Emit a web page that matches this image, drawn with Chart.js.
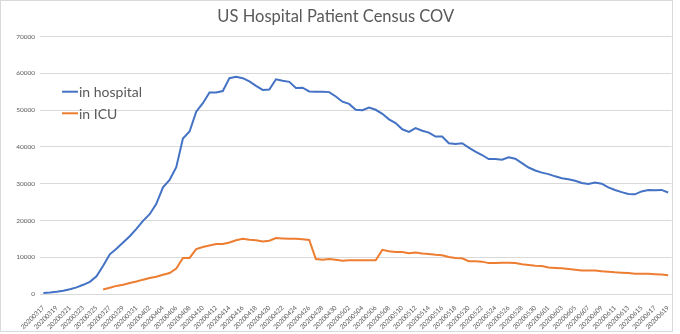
<!DOCTYPE html>
<html>
<head>
<meta charset="utf-8">
<script src="https://cdn.jsdelivr.net/npm/chart.js@4/dist/chart.umd.min.js"></script>
<style>
  html, body { margin: 0; padding: 0; background: #fff; }
  #wrap { width: 680px; height: 334px; }
</style>
</head>
<body>
<div id="wrap"><canvas id="censusChart" width="680" height="334"></canvas></div>
<script>
// dates (categories), one per day
const dates = [
  '20200317','20200318','20200319','20200320','20200321','20200322','20200323','20200324','20200325','20200326',
  '20200327','20200328','20200329','20200330','20200331',
  '20200401','20200402','20200403','20200404','20200405','20200406','20200407','20200408','20200409','20200410',
  '20200411','20200412','20200413','20200414','20200415','20200416','20200417','20200418','20200419','20200420',
  '20200421','20200422','20200423','20200424','20200425','20200426','20200427','20200428','20200429','20200430',
  '20200501','20200502','20200503','20200504','20200505','20200506','20200507','20200508','20200509','20200510',
  '20200511','20200512','20200513','20200514','20200515','20200516','20200517','20200518','20200519','20200520',
  '20200521','20200522','20200523','20200524','20200525','20200526','20200527','20200528','20200529','20200530',
  '20200531',
  '20200601','20200602','20200603','20200604','20200605','20200606','20200607','20200608','20200609','20200610',
  '20200611','20200612','20200613','20200614','20200615','20200616','20200617','20200618','20200619'
];

// patients currently in hospital
const inHospital = [
  300, 400, 600, 900, 1300, 1800, 2500, 3300, 4800, 7700,
  10800, 12300, 14000, 15700, 17700, 19900, 21700, 24500, 29000, 31000,
  34500, 42300, 44200, 49600, 51900, 54800, 54800, 55200, 58700, 59100,
  58700, 57800, 56600, 55500, 55600, 58400, 58000, 57700, 56000, 56100,
  55100, 55000, 55000, 54900, 53700, 52300, 51700, 50100, 50000, 50700,
  50100, 49000, 47500, 46500, 44800, 44100, 45100, 44400, 43900, 42800,
  42800, 41000, 40800, 41000, 39800, 38700, 37800, 36700, 36700, 36500,
  37200, 36800, 35600, 34400, 33600, 33000, 32600, 32000, 31500, 31200,
  30800, 30200, 29900, 30300, 30000, 29000, 28300, 27700, 27200, 27100,
  27900, 28300, 28200, 28300, 27600
];

// patients currently in ICU (no data before 0326)
const inICU = [
  null, null, null, null, null, null, null, null, null, 1200,
  1700, 2200, 2500, 3000, 3400, 3900, 4350, 4700, 5250, 5700,
  6900, 9800, 9800, 12200, 12800, 13200, 13600, 13600, 14000, 14600,
  15000, 14750, 14600, 14300, 14500, 15200, 15100, 15000, 15000, 14900,
  14700, 9500, 9300, 9500, 9300, 9050, 9200, 9200, 9200, 9200,
  9200, 12000, 11600, 11400, 11400, 11100, 11300, 11000, 10900, 10700,
  10550, 10050, 9800, 9700, 8900, 8900, 8800, 8400, 8400, 8500,
  8500, 8400, 8100, 7900, 7700, 7600, 7200, 7100, 7000, 6800,
  6600, 6400, 6400, 6400, 6200, 6050, 5900, 5800, 5700, 5500,
  5500, 5500, 5400, 5300, 5100
];

const textGray = '#595959';
const gridGray = '#d9d9d9';

// white background + thin outer frame like the spreadsheet chart
const frame = {
  id: 'frame',
  beforeDraw(chart) {
    const c = chart.ctx;
    c.save();
    c.fillStyle = '#fff';
    c.fillRect(0, 0, chart.width, chart.height);
    c.strokeStyle = gridGray;
    c.lineWidth = 1;
    c.strokeRect(0.5, 0.5, 672, 331);
    c.restore();
  }
};

// legend drawn inside the plot, upper left
const innerLegend = {
  id: 'innerLegend',
  afterDraw(chart) {
    const c = chart.ctx;
    c.save();
    c.font = '14px Lato';
    c.textBaseline = 'middle';
    chart.data.datasets.forEach((ds, i) => {
      const y = 91.7 + i * 21.6;
      c.strokeStyle = ds.borderColor;
      c.lineWidth = 2;
      c.beginPath();
      c.moveTo(62, y);
      c.lineTo(78, y);
      c.stroke();
      c.fillStyle = textGray;
      c.fillText(ds.label, 79, y + 1);
    });
    c.restore();
  }
};

new Chart(document.getElementById('censusChart'), {
  type: 'line',
  data: {
    labels: dates,
    datasets: [
      {
        label: 'in hospital',
        data: inHospital,
        borderColor: '#4472c4',
        borderWidth: 2,
        pointRadius: 0,
        tension: 0
      },
      {
        label: 'in ICU',
        data: inICU,
        borderColor: '#ed7d31',
        borderWidth: 2,
        pointRadius: 0,
        tension: 0
      }
    ]
  },
  options: {
    responsive: false,
    animation: false,
    layout: { padding: { left: 0, right: 8.5, top: 0, bottom: 0 } },
    plugins: {
      legend: { display: false },
      tooltip: { enabled: false },
      title: {
        display: true,
        text: 'US Hospital Patient Census COV',
        color: textGray,
        font: { family: 'Lato', size: 16.5, weight: 'normal' },
        padding: { top: 7, bottom: 9.8 }
      }
    },
    scales: {
      x: {
        offset: true,
        grid: { display: false },
        border: { color: gridGray },
        ticks: {
          autoSkip: false,
          maxRotation: 45,
          minRotation: 45,
          color: textGray,
          font: { family: 'Lato', size: 6.5 },
          padding: 2,
          callback: (v, i) => (i % 2 === 0 ? dates[i] : '')
        },
        afterFit(s) { s.height = 40; }
      },
      y: {
        min: 0,
        max: 70000,
        grid: { color: gridGray, drawTicks: false },
        border: { display: false },
        ticks: {
          stepSize: 10000,
          color: textGray,
          font: { family: 'Lato', size: 6.5 },
          padding: 5,
          callback: v => String(v)
        },
        afterFit(s) { s.width = 40; }
      }
    }
  },
  plugins: [frame, innerLegend]
});
</script>
</body>
</html>
